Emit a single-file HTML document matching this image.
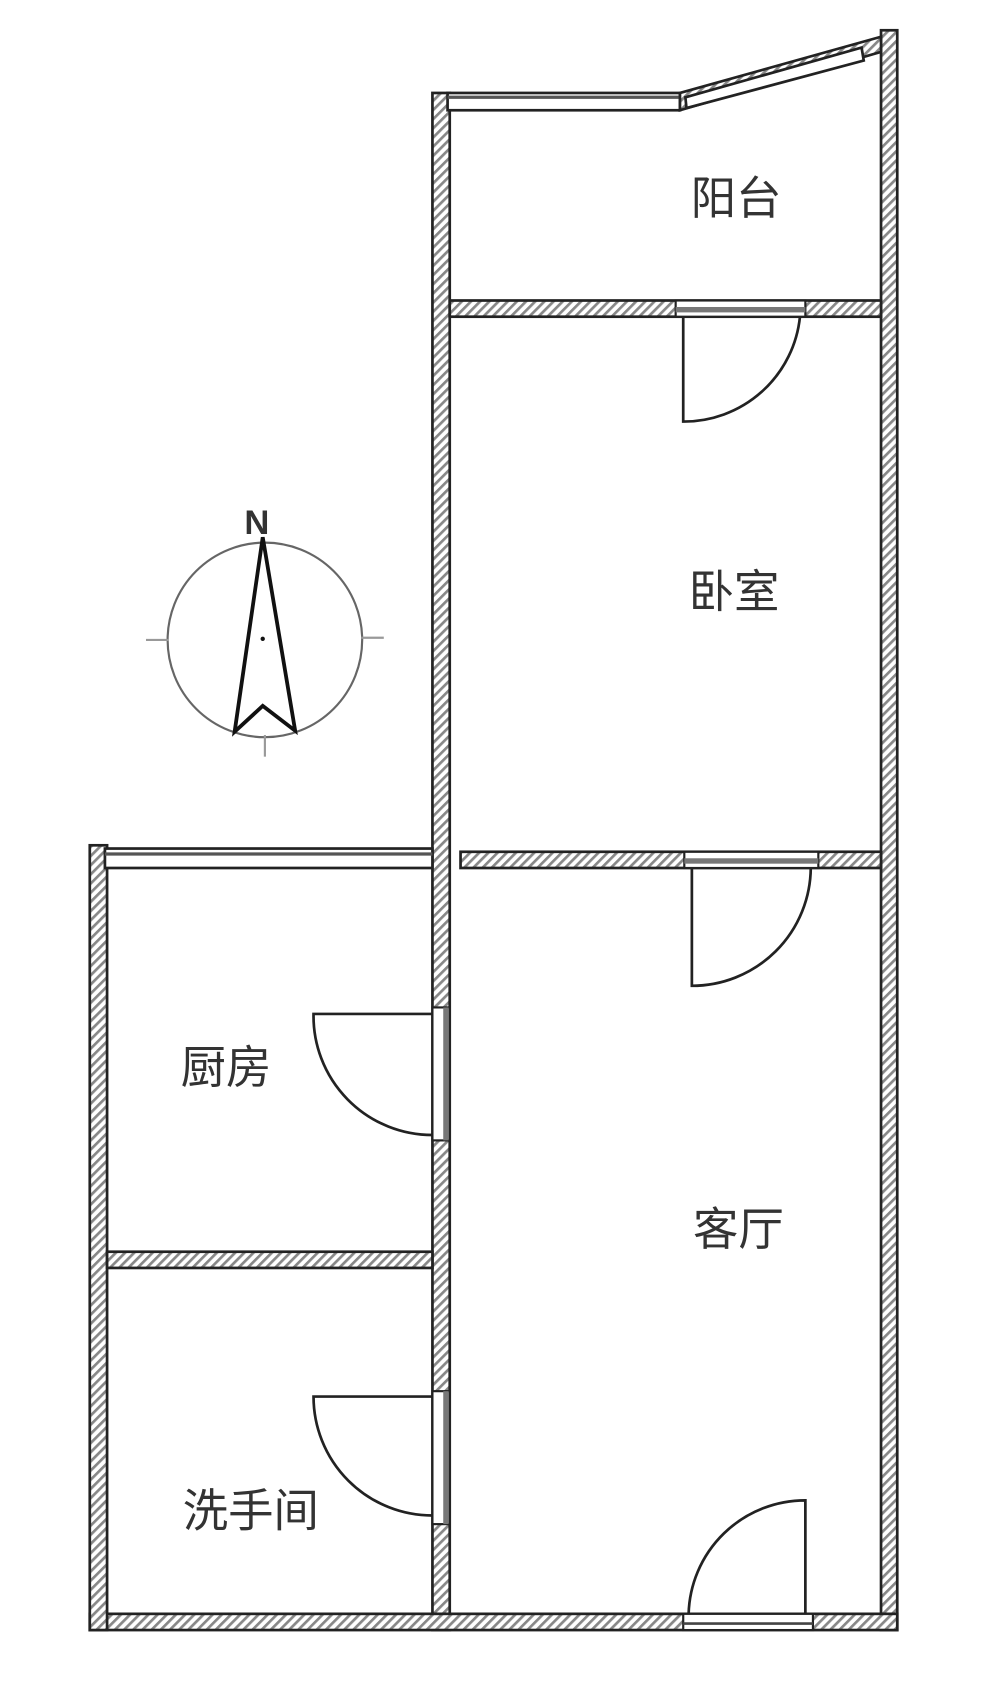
<!DOCTYPE html>
<html><head><meta charset="utf-8"><style>
html,body{margin:0;padding:0;background:#fff}
svg{display:block}
text{font-family:"Liberation Sans","Noto Sans CJK SC",sans-serif;fill:#333}
</style></head><body>
<svg width="1000" height="1696" viewBox="0 0 925 1569" xmlns="http://www.w3.org/2000/svg">
<defs>
<pattern id="h" width="6" height="6" patternUnits="userSpaceOnUse" patternTransform="rotate(45)">
<rect width="6" height="6" fill="#fff"/><rect width="2.5" height="6" fill="#888"/>
</pattern>
</defs>
<g stroke="#222" stroke-width="2.5" fill="url(#h)">
<rect x="400" y="86" width="16" height="1422"/>
<rect x="815" y="28" width="15" height="1480"/>
<rect x="416" y="278" width="399" height="15"/>
<rect x="426" y="788" width="389" height="15"/>
<rect x="83" y="1493" width="747" height="15"/>
<rect x="83" y="782" width="16" height="726"/>
<rect x="99" y="1158" width="301" height="15"/>
</g>
<g stroke="#222" stroke-width="2.5" fill="#fff">
<rect x="414" y="86" width="215" height="16"/>
<line x1="414" y1="90" x2="629" y2="90" stroke="#555" stroke-width="3"/>
<polygon points="629,86 815,34 815,48 629,102" fill="url(#h)"/>
<polygon points="634,90 797,44 799,56 635,100"/>
<rect x="97" y="785" width="303" height="18"/>
<line x1="97" y1="790" x2="400" y2="790" stroke="#555" stroke-width="3"/>
</g>
<g stroke="#222" stroke-width="2" fill="#fff">
<rect x="625" y="278" width="120" height="15"/>
<rect x="625" y="284" width="120" height="5" fill="#777" stroke="none"/>
<rect x="633" y="788" width="124" height="15"/>
<rect x="633" y="794" width="124" height="5" fill="#777" stroke="none"/>
<rect x="632" y="1493" width="120" height="15"/>
<line x1="632" y1="1502" x2="752" y2="1502" stroke="#444" stroke-width="2.5"/>
<rect x="400" y="932" width="16" height="123"/>
<rect x="410" y="932" width="5" height="123" fill="#777" stroke="none"/>
<rect x="400" y="1287" width="16" height="123"/>
<rect x="410" y="1287" width="5" height="123" fill="#777" stroke="none"/>
</g>
<g stroke="#222" stroke-width="2.5" fill="none">
<path d="M632 293 V390 A108 108 0 0 0 740 293"/>
<path d="M640 803 V912 A110 110 0 0 0 750 803"/>
<path d="M745 1493 V1388 A108 108 0 0 0 637 1493"/>
<path d="M400 938 H290 A110 110 0 0 0 400 1050"/>
<path d="M400 1292 H290 A110 110 0 0 0 400 1402"/>
</g>
<g font-size="42">
<text x="639" y="198">阳台</text>
<text x="637" y="562">卧室</text>
<text x="167" y="1002">厨房</text>
<text x="641" y="1152">客厅</text>
<text x="169" y="1412">洗手间</text>
</g>
<g>
<circle cx="245" cy="592" r="90" fill="none" stroke="#666" stroke-width="2"/>
<line x1="135" y1="592" x2="156" y2="592" stroke="#999" stroke-width="2"/>
<line x1="334" y1="590" x2="355" y2="590" stroke="#999" stroke-width="2"/>
<line x1="245" y1="680" x2="245" y2="700" stroke="#999" stroke-width="2"/>
<path d="M243 497 L217 677 L243 653 L273 676 Z" fill="none" stroke="#111" stroke-width="3.5"/>
<circle cx="243" cy="591" r="2" fill="#111"/>
<text x="226" y="494" font-size="32" font-weight="bold" fill="#111">N</text>
</g>
</svg>
</body></html>
